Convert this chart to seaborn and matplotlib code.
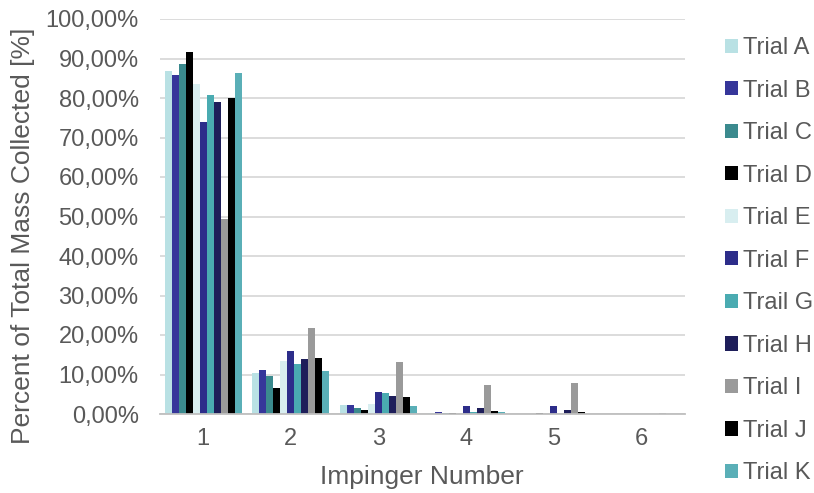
import pandas as pd
import numpy as np
import seaborn as sns
import matplotlib
matplotlib.use('Agg')
import matplotlib.pyplot as plt
from matplotlib.ticker import FuncFormatter, FixedLocator

# impinger numbers (categories) and trial names
impingers = ['1', '2', '3', '4', '5', '6']
trials = ['Trial A', 'Trial B', 'Trial C', 'Trial D', 'Trial E', 'Trial F',
          'Trail G', 'Trial H', 'Trial I', 'Trial J', 'Trial K']

# percent of total mass collected, one list per trial (impinger 1..6)
trial_a = [86.8, 10.4, 2.2, 0.2, 0.1, 0.0]
trial_b = [85.8, 11.1, 2.4, 0.5, 0.1, 0.0]
trial_c = [88.5, 9.5, 1.6, 0.2, 0.1, 0.0]
trial_d = [91.6, 6.6, 1.0, 0.3, 0.3, 0.0]
trial_e = [83.5, 13.4, 2.5, 0.1, 0.1, 0.0]
trial_f = [74.0, 16.0, 5.6, 1.9, 2.1, 0.0]
trial_g = [80.8, 12.7, 5.2, 0.6, 0.1, 0.0]
trial_h = [78.9, 14.0, 4.5, 1.5, 1.0, 0.0]
trial_i = [49.4, 21.7, 13.2, 7.4, 7.8, 0.2]
trial_j = [80.1, 14.2, 4.3, 0.7, 0.4, 0.1]
trial_k = [86.4, 10.9, 1.9, 0.6, 0.1, 0.0]

values = [trial_a, trial_b, trial_c, trial_d, trial_e, trial_f,
          trial_g, trial_h, trial_i, trial_j, trial_k]

colors = ['#b9e1e4', '#36369a', '#3b8a8e', '#000000', '#d8eef0', '#2d2d8a',
          '#4aabb1', '#1e1e5a', '#9a9a9a', '#000000', '#5aafb7']

rows = []
for t, vals in zip(trials, values):
    for imp, v in zip(impingers, vals):
        rows.append({'impinger': imp, 'trial': t, 'pct': v})
df = pd.DataFrame(rows)

sns.set_style('white')
plt.rcParams['font.family'] = ['Liberation Sans', 'DejaVu Sans']
text_col = '#595959'

fig = plt.figure(figsize=(8.14, 4.93), dpi=100)
ax = fig.add_axes([159.5 / 814, 1 - 414 / 493, (685 - 159.5) / 814, (414 - 19) / 493])

sns.barplot(data=df, x='impinger', y='pct', hue='trial', order=impingers,
            hue_order=trials, palette=colors, saturation=1, width=0.88,
            errorbar=None, linewidth=0, ax=ax)

ax.set_ylim(0, 100)
ax.set_xlim(-0.5, len(impingers) - 0.5)
ax.set_yticks(np.arange(0, 101, 10))
ax.yaxis.set_major_formatter(FuncFormatter(lambda v, p: f'{v:.2f}%'.replace('.', ',')))
ax.grid(axis='y', color='#d9d9d9', linewidth=1.3)
ax.set_axisbelow(True)

for s in ['top', 'right', 'left']:
    ax.spines[s].set_visible(False)
ax.spines['bottom'].set_color('#bfbfbf')
ax.spines['bottom'].set_linewidth(1.3)

ax.xaxis.set_minor_locator(FixedLocator(np.arange(-0.5, len(impingers), 1)))
ax.tick_params(axis='x', which='minor', length=5, width=1.3, color='#bfbfbf', direction='out')
ax.tick_params(axis='x', which='major', length=0, pad=10, labelsize=17, labelcolor=text_col)
ax.tick_params(axis='y', length=0, pad=15, labelsize=17, labelcolor=text_col)

ax.set_xlabel('Impinger Number', fontsize=19, color=text_col, labelpad=11)
ax.set_ylabel('Percent of Total Mass Collected [%]', fontsize=19, color=text_col)
ax.yaxis.set_label_coords(-0.236, 0.452)

ax.get_legend().remove()
handles, labels = ax.get_legend_handles_labels()
leg = fig.legend(handles, labels, loc='upper left', bbox_to_anchor=(725 / 814, 1 - 37 / 493),
                 frameon=False, fontsize=17, labelcolor=text_col, handlelength=0.55,
                 handleheight=0.55, handletextpad=0.2, labelspacing=0.87,
                 borderpad=0, borderaxespad=0)

fig.savefig('out.png', dpi=100)
